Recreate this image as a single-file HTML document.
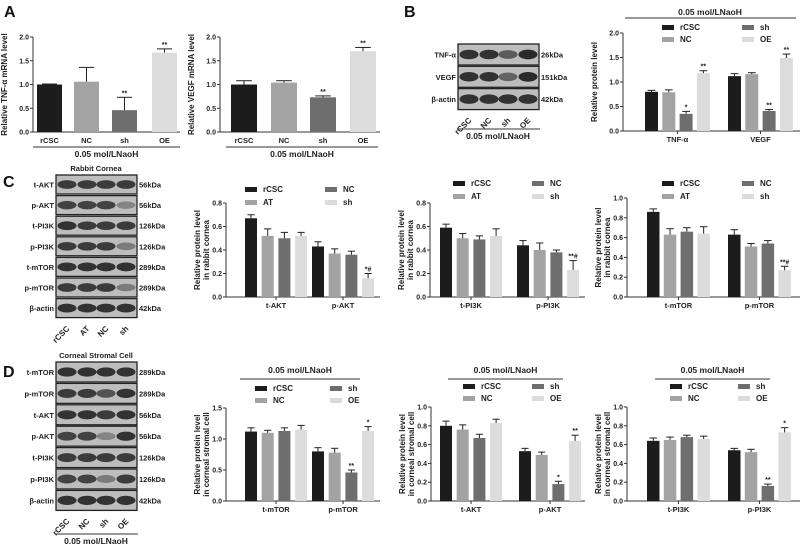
<!DOCTYPE html>
<html><head><meta charset="utf-8">
<style>
html,body{margin:0;padding:0;background:#fff;}
svg{display:block;font-family:"Liberation Sans",Arial,sans-serif;}
</style></head>
<body>
<svg id="fig" width="800" height="546" viewBox="0 0 800 546" xmlns="http://www.w3.org/2000/svg"></svg>
<script>
// ---------- DATA ----------
const aCats = ['rCSC','NC','sh','OE'];
const a1Vals = [1.0, 1.06, 0.46, 1.67];
const a1Errs = [0.01, 0.30, 0.27, 0.08];
const a1Stars = ['', '', '**', '**'];
const a2Vals = [1.0, 1.04, 0.73, 1.70];
const a2Errs = [0.08, 0.04, 0.03, 0.08];
const a2Stars = ['', '', '**', '**'];

const bCats = ['TNF-α','VEGF'];
const bVals = [[0.80,0.79,0.35,1.18],[1.12,1.16,0.41,1.49]];
const bErrs = [[0.03,0.05,0.05,0.05],[0.05,0.03,0.03,0.08]];
const bStars = [['','','*','**'],['','','**','**']];

const c1Cats = ['t-AKT','p-AKT'];
const c1Vals = [[0.67,0.52,0.50,0.52],[0.43,0.37,0.36,0.16]];
const c1Errs = [[0.03,0.06,0.05,0.03],[0.04,0.04,0.03,0.04]];
const c1Stars = [['','','',''],['','','','*#']];
const c2Cats = ['t-PI3K','p-PI3K'];
const c2Vals = [[0.59,0.50,0.49,0.52],[0.44,0.40,0.38,0.23]];
const c2Errs = [[0.03,0.04,0.03,0.06],[0.04,0.06,0.02,0.08]];
const c2Stars = [['','','',''],['','','','**#']];
const c3Cats = ['t-mTOR','p-mTOR'];
const c3Vals = [[0.86,0.63,0.66,0.64],[0.63,0.51,0.54,0.27]];
const c3Errs = [[0.03,0.06,0.04,0.07],[0.05,0.03,0.03,0.04]];
const c3Stars = [['','','',''],['','','','**#']];

const d1Cats = ['t-mTOR','p-mTOR'];
const d1Vals = [[1.12,1.10,1.13,1.15],[0.80,0.78,0.46,1.13]];
const d1Errs = [[0.06,0.04,0.05,0.07],[0.06,0.07,0.04,0.07]];
const d1Stars = [['','','',''],['','','**','*']];
const d2Cats = ['t-AKT','p-AKT'];
const d2Vals = [[0.80,0.76,0.67,0.83],[0.53,0.49,0.18,0.64]];
const d2Errs = [[0.05,0.05,0.04,0.04],[0.03,0.03,0.03,0.06]];
const d2Stars = [['','','',''],['','','*','**']];
const d3Cats = ['t-PI3K','p-PI3K'];
const d3Vals = [[0.64,0.65,0.68,0.66],[0.54,0.52,0.16,0.73]];
const d3Errs = [[0.03,0.03,0.02,0.03],[0.02,0.03,0.02,0.05]];
const d3Stars = [['','','',''],['','','**','*']];

// ---------- HELPERS ----------
const svg = document.getElementById('fig');
const NS = 'http://www.w3.org/2000/svg';
function mk(tag, at, parent){
  const e = document.createElementNS(NS, tag);
  for (const k in at) e.setAttribute(k, at[k]);
  (parent||svg).appendChild(e);
  return e;
}
function txt(x,y,s,size,opts,parent){
  opts = opts||{};
  const t = mk('text',{x:x,y:y,'font-size':size,'font-weight':opts.w||'bold','text-anchor':opts.a||'middle',fill:opts.f||'#222'},parent);
  if (opts.r) t.setAttribute('transform','rotate('+opts.r+' '+x+' '+y+')');
  t.textContent = s;
  return t;
}
const COL_BNC = ['#1c1c1c','#a3a3a3','#6e6e6e','#dcdcdc'];
const COL_C = ['#1c1c1c','#a3a3a3','#6e6e6e','#dcdcdc'];

function chart(o){
  const g = mk('g',{});
  
  
  const ys = v => o.y0 - (v/o.max)*(o.y0-o.yTop);
  const ax = mk('g',{},g);
  
  
  mk('line',{x1:o.ax,y1:o.yTop,x2:o.ax,y2:o.y0,stroke:'#333','stroke-width':1},ax);
  for (let v=0; v<=o.max+1e-9; v+=o.step){
    const y = ys(v);
    mk('line',{x1:o.ax-3,y1:y,x2:o.ax,y2:y,stroke:'#333','stroke-width':1},ax);
    const t = txt(o.ax-4,y+2.5,v.toFixed(1),7,{a:'end'},ax);
    
    
  }
  mk('line',{x1:o.ax,y1:o.y0,x2:o.xEnd,y2:o.y0,stroke:'#333','stroke-width':1},g);
  o.ytitle.forEach((s,i)=>{
    const t = txt(o.ax-26+i*9,(o.y0+o.yTop)/2,s,8,{r:-90},g);
    
    
  });
  o.vals.forEach((grp,gi)=>{
    grp.forEach((v,si)=>{
      const x = o.gx[gi] + si*o.pitch;
      const col = o.single ? o.colors[gi] : o.colors[si];
      const b = mk('rect',{x:x,y:ys(v),width:o.bw,height:o.y0-ys(v),fill:col},g);
      
      
      const e = o.errs[gi][si];
      const cx = x+o.bw/2, yt = ys(v+e);
      mk('line',{x1:cx,y1:ys(v),x2:cx,y2:yt,stroke:'#222','stroke-width':1},g);
      mk('line',{x1:cx-o.bw*0.3,y1:yt,x2:cx+o.bw*0.3,y2:yt,stroke:'#222','stroke-width':1},g);
      const s = o.stars[gi][si];
      if (s){
        const st = txt(cx,yt-2,s,7,{},g);
        
        
      }
    });
    const n = grp.length;
    const mid = o.gx[gi] + ((n-1)*o.pitch + o.bw)/2;
    if (!o.single) mk('line',{x1:mid,y1:o.y0,x2:mid,y2:o.y0+3,stroke:'#333'},g);
    const xl = txt(mid,o.y0+11,o.cats[gi],7.5,{},g);
    
    
  });
  if (o.legend){
    o.legend.forEach((L,i)=>{
      const lg = mk('g',{},g);
      
      
      mk('rect',{x:L.x,y:L.y-5,width:12,height:5,fill:L.c},lg);
      txt(L.x+18,L.y,L.s,8,{a:'start'},lg);
    });
  }
  if (o.bracket){
    const bk = mk('g',{},g);
    
    
    mk('line',{x1:o.bracket[0],y1:o.bracket[2],x2:o.bracket[1],y2:o.bracket[2],stroke:'#333','stroke-width':1},bk);
    txt((o.bracket[0]+o.bracket[1])/2,o.bracket[2]+o.bracket[3],'0.05 mol/LNaoH',8.5,{},bk);
  }
  return g;
}
function legend4(x1,x2,y1,y2,names,cols){
  return [{x:x1,y:y1,s:names[0],c:cols[0]},{x:x2,y:y1,s:names[2],c:cols[2]},
          {x:x1,y:y2,s:names[1],c:cols[1]},{x:x2,y:y2,s:names[3],c:cols[3]}];
}

function blot(o){
  const g = mk('g',{});
  
  
  const X = o.x || 56;
  const lanes = [X+11,X+31,X+50,X+70];
  o.rows.forEach((r,i)=>{
    const y = o.y + i*o.pitch;
    mk('rect',{x:X,y:y,width:81,height:o.h,fill:'#bdbdbd',stroke:'#222','stroke-width':1.3},g);
    r.int.forEach((a,li)=>{
      mk('ellipse',{cx:lanes[li],cy:y+o.h/2,rx:9.5,ry:o.h*0.17+a*1.4,fill:'#1a1a1a','fill-opacity':a},g);
    });
    const l = txt(X-2,y+o.h/2+3,r.n,7.5,{a:'end'},g);
    
    
    const k = txt(X+83,y+o.h/2+3,r.k,7.5,{a:'start'},g);
    
    
  });
  const ly = o.y + o.rows.length*o.pitch + 6;
  o.lanes.forEach((s,i)=>{
    const t = txt(lanes[i]+3,ly+4,s,8,{a:'end',r:-45},g);
    
    
  });
  if (o.title) txt(X+40,o.y-4,o.title,7.5,{},g);
  if (o.bracketY){
    mk('line',{x1:X-1,y1:o.bracketY,x2:X+82,y2:o.bracketY,stroke:'#333'},g);
    txt(X+40,o.bracketY+10,'0.05 mol/LNaoH',8.5,{},g);
  }
}

[['A',4,17],['B',404,17],['C',3,187],['D',3,377]].forEach(p=>{
  const t = txt(p[1],p[2],p[0],16,{a:'start',f:'#111'});
  
  
});

// ---------- PANEL A ----------
chart({name:'chart-a-tnf-mrna',ax:33,y0:132,yTop:37,max:2,step:0.5,xEnd:180,cats:aCats,single:true,
  vals:a1Vals.map(v=>[v]),errs:a1Errs.map(v=>[v]),stars:a1Stars.map(v=>[v]),colors:COL_BNC,
  gx:[37,74,112,152],pitch:0,bw:25,ytitle:['Relative TNF-α mRNA level'],bracket:[33,180,147,10]});
chart({name:'chart-a-vegf-mrna',ax:220,y0:132,yTop:37,max:2,step:0.5,xEnd:380,cats:aCats,single:true,
  vals:a2Vals.map(v=>[v]),errs:a2Errs.map(v=>[v]),stars:a2Stars.map(v=>[v]),colors:COL_BNC,
  gx:[231,271,310,350],pitch:0,bw:26,ytitle:['Relative VEGF mRNA level'],bracket:[226,378,147,10]});

// ---------- PANEL B ----------
blot({name:'blot-b',x:458,y:44,pitch:22.3,h:21,lanes:['rCSC','NC','sh','OE'],bracketY:129,
  rows:[{n:'TNF-α',k:'26kDa',int:[0.85,0.85,0.6,0.9]},{n:'VEGF',k:'151kDa',int:[0.85,0.85,0.55,0.9]},{n:'β-actin',k:'42kDa',int:[0.85,0.85,0.85,0.85]}]});
chart({name:'chart-b-protein',ax:623,y0:131,yTop:33,max:2,step:0.5,xEnd:800,cats:bCats,series:['rCSC','NC','sh','OE'],
  vals:bVals,errs:bErrs,stars:bStars,colors:COL_BNC,gx:[645,728],pitch:17.3,bw:13,
  ytitle:['Relative protein level'],legend:legend4(662,742,30,42,['rCSC','NC','sh','OE'],COL_BNC)});
mk('line',{x1:625,y1:18,x2:796,y2:18,stroke:'#333'});
txt(710,15,'0.05 mol/LNaoH',8.5,{});

// ---------- PANEL C ----------
blot({name:'blot-c-rabbit-cornea',y:175,pitch:20.6,h:19,lanes:['rCSC','AT','NC','sh'],title:'Rabbit Cornea',
  rows:[{n:'t-AKT',k:'56kDa',int:[0.8,0.8,0.8,0.8]},{n:'p-AKT',k:'56kDa',int:[0.75,0.75,0.75,0.35]},
        {n:'t-PI3K',k:'126kDa',int:[0.85,0.8,0.8,0.8]},{n:'p-PI3K',k:'126kDa',int:[0.8,0.8,0.8,0.4]},
        {n:'t-mTOR',k:'289kDa',int:[0.85,0.85,0.85,0.85]},{n:'p-mTOR',k:'289kDa',int:[0.8,0.8,0.8,0.4]},
        {n:'β-actin',k:'42kDa',int:[0.85,0.85,0.85,0.85]}]});
const cSer = ['rCSC','AT','NC','sh'];
chart({name:'chart-c-akt',ax:226,y0:297,yTop:203,max:0.8,step:0.2,xEnd:380,cats:c1Cats,series:cSer,
  vals:c1Vals,errs:c1Errs,stars:c1Stars,colors:COL_C,gx:[245,312],pitch:16.7,bw:12,
  ytitle:['Relative protein level','in rabbit cornea'],legend:legend4(245,325,192,205,['rCSC','AT','NC','sh'],COL_C)});
chart({name:'chart-c-pi3k',ax:430,y0:297,yTop:203,max:0.8,step:0.2,xEnd:585,cats:c2Cats,series:cSer,
  vals:c2Vals,errs:c2Errs,stars:c2Stars,colors:COL_C,gx:[440,517],pitch:16.7,bw:12,
  ytitle:['Relative protein level','in rabbit cornea'],legend:legend4(453,532,186,199,['rCSC','AT','NC','sh'],COL_C)});
chart({name:'chart-c-mtor',ax:627,y0:297,yTop:198,max:1.0,step:0.2,xEnd:800,cats:c3Cats,series:cSer,
  vals:c3Vals,errs:c3Errs,stars:c3Stars,colors:COL_C,gx:[647,728],pitch:16.8,bw:12.5,
  ytitle:['Relative protein level','in rabbit cornea'],legend:legend4(662,742,186,199,['rCSC','AT','NC','sh'],COL_C)});

// ---------- PANEL D ----------
blot({name:'blot-d-stromal-cell',y:362,pitch:21.4,h:20,lanes:['rCSC','NC','sh','OE'],title:'Corneal Stromal Cell',bracketY:534,
  rows:[{n:'t-mTOR',k:'289kDa',int:[0.85,0.85,0.85,0.85]},{n:'p-mTOR',k:'289kDa',int:[0.8,0.8,0.65,0.85]},
        {n:'t-AKT',k:'56kDa',int:[0.85,0.85,0.8,0.85]},{n:'p-AKT',k:'56kDa',int:[0.75,0.75,0.35,0.85]},
        {n:'t-PI3K',k:'126kDa',int:[0.8,0.8,0.8,0.8]},{n:'p-PI3K',k:'126kDa',int:[0.75,0.75,0.4,0.8]},
        {n:'β-actin',k:'42kDa',int:[0.85,0.85,0.85,0.85]}]});
const dSer = ['rCSC','NC','sh','OE'];
chart({name:'chart-d-mtor',ax:226,y0:501,yTop:408,max:1.5,step:0.5,xEnd:380,cats:d1Cats,series:dSer,
  vals:d1Vals,errs:d1Errs,stars:d1Stars,colors:COL_BNC,gx:[245,312],pitch:16.7,bw:12,
  ytitle:['Relative protein level','in corneal stromal cell'],legend:legend4(255,330,391,403,dSer,COL_BNC),bracket:[240,360,379,-6]});
chart({name:'chart-d-akt',ax:431,y0:501,yTop:407,max:1.0,step:0.2,xEnd:585,cats:d2Cats,series:dSer,
  vals:d2Vals,errs:d2Errs,stars:d2Stars,colors:COL_BNC,gx:[440,519],pitch:16.7,bw:12,
  ytitle:['Relative protein level','in corneal stromal cell'],legend:legend4(463,532,389,401,dSer,COL_BNC),bracket:[448,563,379,-6]});
chart({name:'chart-d-pi3k',ax:627,y0:501,yTop:407,max:1.0,step:0.2,xEnd:800,cats:d3Cats,series:dSer,
  vals:d3Vals,errs:d3Errs,stars:d3Stars,colors:COL_BNC,gx:[647,728],pitch:16.8,bw:12.5,
  ytitle:['Relative protein level','in corneal stromal cell'],legend:legend4(670,738,389,401,dSer,COL_BNC),bracket:[655,770,379,-6]});
</script>
</body></html>
